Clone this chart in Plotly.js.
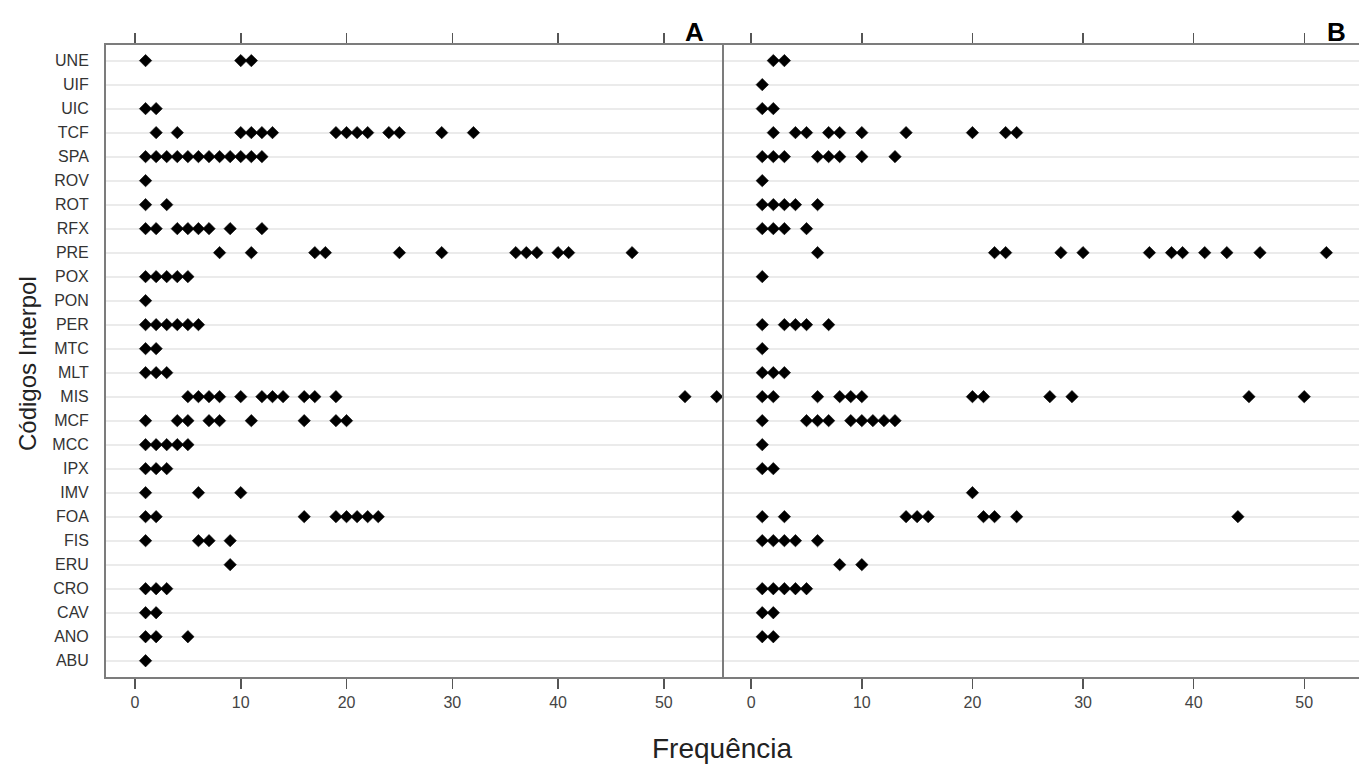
<!DOCTYPE html>
<html>
<head>
<meta charset="utf-8">
<script src="https://cdn.plot.ly/plotly-3.0.1.min.js"></script>
<style>html,body{margin:0;padding:0;background:#fff;}#chart{width:1359px;height:767px;}</style>
</head>
<body>
<div id="chart"></div>
<script>
// Categories, listed top to bottom as in the figure
const categories = ["UNE","UIF","UIC","TCF","SPA","ROV","ROT","RFX","PRE","POX","PON","PER","MTC","MLT","MIS","MCF","MCC","IPX","IMV","FOA","FIS","ERU","CRO","CAV","ANO","ABU"];

// Panel A: frequency values observed per category (same order as categories)
const freqA = [
  [1,10,11],
  [],
  [1,2],
  [2,4,10,11,12,13,19,20,21,22,24,25,29,32],
  [1,2,3,4,5,6,7,8,9,10,11,12],
  [1],
  [1,3],
  [1,2,4,5,6,7,9,12],
  [8,11,17,18,25,29,36,37,38,40,41,47],
  [1,2,3,4,5],
  [1],
  [1,2,3,4,5,6],
  [1,2],
  [1,2,3],
  [5,6,7,8,10,12,13,14,16,17,19,52,55],
  [1,4,5,7,8,11,16,19,20],
  [1,2,3,4,5],
  [1,2,3],
  [1,6,10],
  [1,2,16,19,20,21,22,23],
  [1,6,7,9],
  [9],
  [1,2,3],
  [1,2],
  [1,2,5],
  [1]
];

// Panel B
const freqB = [
  [2,3],
  [1],
  [1,2],
  [2,4,5,7,8,10,14,20,23,24],
  [1,2,3,6,7,8,10,13],
  [1],
  [1,2,3,4,6],
  [1,2,3,5],
  [6,22,23,28,30,36,38,39,41,43,46,52],
  [1],
  [],
  [1,3,4,5,7],
  [1],
  [1,2,3],
  [1,2,6,8,9,10,20,21,27,29,45,50],
  [1,5,6,7,9,10,11,12,13],
  [1],
  [1,2],
  [20],
  [1,3,14,15,16,21,22,24,44],
  [1,2,3,4,6],
  [8,10],
  [1,2,3,4,5],
  [1,2],
  [1,2],
  []
];

const xTicks = [0,10,20,30,40,50];
const panelLabels = ["A","B"];
const xTitle = "Frequência";
const yTitle = "Códigos Interpol";

function flatten(freq) {
  const xs = [], ys = [];
  freq.forEach((vals, i) => vals.forEach(v => { xs.push(v); ys.push(categories[i]); }));
  return {xs, ys};
}
const a = flatten(freqA), b = flatten(freqB);
const marker = {symbol: "diamond", size: 9.5, color: "#000", line: {width: 0.6, color: "#000"}};

const traces = [
  {type: "scatter", mode: "markers", x: a.xs, y: a.ys, xaxis: "x", yaxis: "y", marker: marker, hoverinfo: "x+y"},
  {type: "scatter", mode: "markers", x: b.xs, y: b.ys, xaxis: "x2", yaxis: "y2", marker: marker, hoverinfo: "x+y"}
];

const catOrder = categories.slice().reverse();
const font = {family: "Liberation Sans, Arial, sans-serif"};
const frameColor = "#7c7c7c";
const yDomain = [0.1173, 0.9413];
const yRange = [-0.68, 25.65];

const xBase = {
  showgrid: false, zeroline: false, showline: true, linecolor: frameColor, linewidth: 2,
  mirror: "ticks", ticks: "outside", ticklen: 10, tickwidth: 1.5, tickcolor: "#555",
  tickvals: xTicks, tickfont: {family: font.family, size: 16, color: "#444"}, fixedrange: true
};
const yBase = {
  type: "category", categoryorder: "array", categoryarray: catOrder, range: yRange, domain: yDomain,
  showgrid: true, gridcolor: "#ebebeb", gridwidth: 2, zeroline: false,
  showline: true, linecolor: frameColor, linewidth: 2, mirror: true, ticks: "", fixedrange: true
};

const layout = {
  width: 1359, height: 767,
  margin: {l: 0, r: 0, t: 0, b: 0},
  paper_bgcolor: "#fff", plot_bgcolor: "#fff",
  showlegend: false,
  font: {family: font.family, color: "#333"},
  xaxis: Object.assign({}, xBase, {domain: [106/1359, 722/1359], range: [-2.74, 55.5], anchor: "y"}),
  xaxis2: Object.assign({}, xBase, {domain: [724/1359, 1], range: [-2.46, 54.95], anchor: "y2"}),
  yaxis: Object.assign({}, yBase, {anchor: "x", showticklabels: true, ticklabelstandoff: 12,
    tickfont: {family: font.family, size: 16, color: "#333"}}),
  yaxis2: Object.assign({}, yBase, {anchor: "x2", showticklabels: false}),
  annotations: [
    {text: panelLabels[0], xref: "paper", yref: "paper", x: 694/1359, y: 1 - 32/767, showarrow: false,
     xanchor: "center", yanchor: "middle", font: {family: font.family, size: 26, color: "#000", weight: "bold"}},
    {text: panelLabels[1], xref: "paper", yref: "paper", x: 1336/1359, y: 1 - 32/767, showarrow: false,
     xanchor: "center", yanchor: "middle", font: {family: font.family, size: 26, color: "#000", weight: "bold"}},
    {text: xTitle, xref: "paper", yref: "paper", x: 722/1359, y: 1 - 748/767, showarrow: false,
     xanchor: "center", yanchor: "middle", font: {family: font.family, size: 28, color: "#222"}},
    {text: yTitle, xref: "paper", yref: "paper", x: 27/1359, y: 1 - 364/767, showarrow: false, textangle: -90,
     xanchor: "center", yanchor: "middle", font: {family: font.family, size: 24, color: "#222"}}
  ]
};

Plotly.newPlot("chart", traces, layout, {displayModeBar: false, staticPlot: true});
</script>
</body>
</html>
